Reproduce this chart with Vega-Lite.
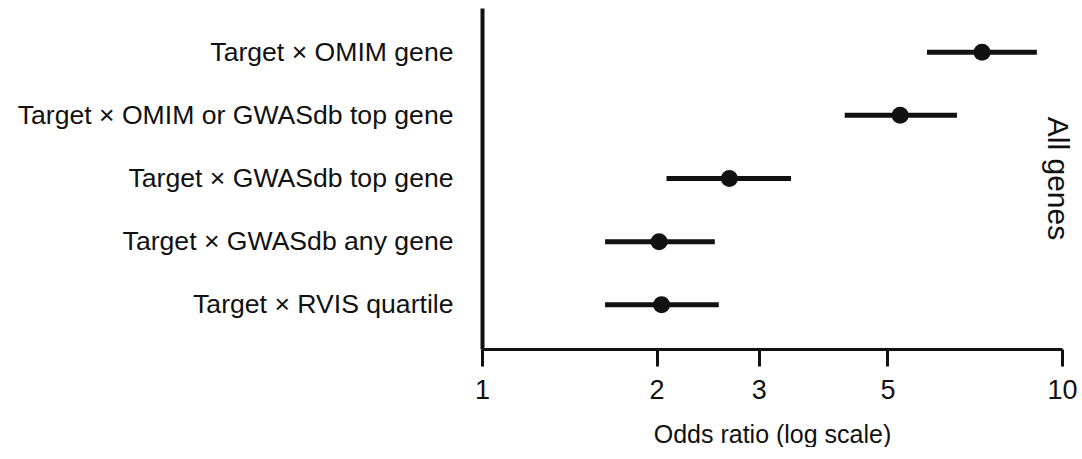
{
  "$schema": "https://vega.github.io/schema/vega-lite/v6.json",
  "padding": {"left": 17, "top": 8, "right": 0, "bottom": 0},
  "background": "white",
  "data": {
    "values": [
      {"set": "All genes", "comparison": "Target × OMIM gene", "or": 7.28, "lo": 5.85, "hi": 9.05},
      {"set": "All genes", "comparison": "Target × OMIM or GWASdb top gene", "or": 5.26, "lo": 4.22, "hi": 6.59},
      {"set": "All genes", "comparison": "Target × GWASdb top gene", "or": 2.67, "lo": 2.08, "hi": 3.41},
      {"set": "All genes", "comparison": "Target × GWASdb any gene", "or": 2.02, "lo": 1.63, "hi": 2.52},
      {"set": "All genes", "comparison": "Target × RVIS quartile", "or": 2.04, "lo": 1.63, "hi": 2.56}
    ]
  },
  "facet": {
    "row": {
      "field": "set",
      "title": null,
      "header": {
        "labelOrient": "right",
        "labelAngle": 90,
        "labelFont": "Liberation Sans",
        "labelFontSize": 30,
        "labelColor": "#111",
        "labelPadding": -20
      }
    }
  },
  "spec": {
    "width": 580,
    "height": 341,
    "encoding": {
      "y": {
        "field": "comparison",
        "type": "nominal",
        "sort": null,
        "scale": {"type": "point", "padding": 0.7},
        "axis": {
          "title": null,
          "ticks": false,
          "domainWidth": 4,
          "domainColor": "#111",
          "labelFont": "Liberation Sans",
          "labelFontSize": 26.6,
          "labelColor": "#111",
          "labelPadding": 29,
          "labelLimit": 700
        }
      }
    },
    "layer": [
      {
        "mark": {"type": "rule", "strokeWidth": 5, "color": "#111"},
        "encoding": {
          "x": {
            "field": "lo",
            "type": "quantitative",
            "scale": {"type": "log", "domain": [1, 10], "nice": false},
            "axis": {
              "values": [1, 2, 3, 5, 10],
              "format": "~g",
              "title": "Odds ratio (log scale)",
              "grid": false,
              "domainWidth": 3,
              "domainColor": "#111",
              "tickWidth": 3,
              "tickColor": "#111",
              "tickSize": 17,
              "labelFont": "Liberation Sans",
              "labelFontSize": 27,
              "labelColor": "#111",
              "labelPadding": 11,
              "labelFlush": false,
              "titleFont": "Liberation Sans",
              "titleFontSize": 25,
              "titleFontWeight": "normal",
              "titleColor": "#111",
              "titlePadding": 19
            }
          },
          "x2": {"field": "hi"}
        }
      },
      {
        "mark": {"type": "circle", "size": 290, "opacity": 1, "color": "#111"},
        "encoding": {
          "x": {"field": "or", "type": "quantitative"}
        }
      }
    ]
  },
  "config": {"view": {"stroke": null}}
}
